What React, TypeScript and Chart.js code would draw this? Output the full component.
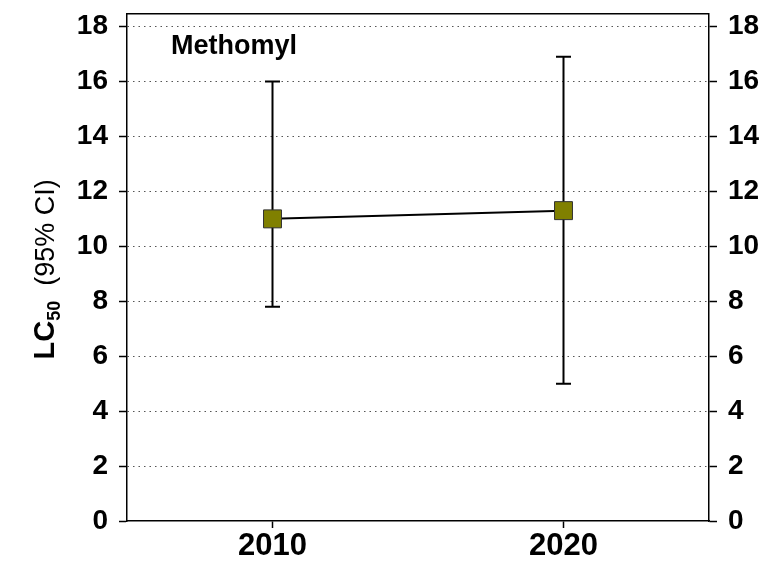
import { useEffect, useRef } from "react";
import { Chart, registerables } from "chart.js";

Chart.register(...registerables);

// Methomyl LC50 by survey year, with 95% confidence limits
const years = [2010, 2020];
const lc50 = [11.0, 11.3];
const ciLow = [7.8, 5.0];
const ciHigh = [16.0, 16.9];
const yTicks = [0, 2, 4, 6, 8, 10, 12, 14, 16, 18];
const xTicks = [2010, 2020];
const xRange = [2005, 2025];
const yRange = [0, 18.47];
const compound = "Methomyl";

const FONT = "'Liberation Sans', Arial, Helvetica, sans-serif";

const errorBars = {
  id: "errorBars",
  beforeDatasetsDraw(chart: any) {
    const { ctx, scales } = chart;
    const x = scales.x;
    const y = scales.y;
    ctx.save();
    ctx.strokeStyle = "#000";
    ctx.lineWidth = 2;
    years.forEach((yr, i) => {
      const px = x.getPixelForValue(yr);
      const top = y.getPixelForValue(ciHigh[i]);
      const bot = y.getPixelForValue(ciLow[i]);
      ctx.beginPath();
      ctx.moveTo(px, top);
      ctx.lineTo(px, bot);
      ctx.moveTo(px - 7.5, top);
      ctx.lineTo(px + 7.5, top);
      ctx.moveTo(px - 7.5, bot);
      ctx.lineTo(px + 7.5, bot);
      ctx.stroke();
    });
    ctx.restore();
  },
};

const frameAndText = {
  id: "frameAndText",
  afterDraw(chart: any) {
    const { ctx, chartArea } = chart;
    const { left, right, top, bottom } = chartArea;
    ctx.save();
    // top edge of the plot frame
    ctx.strokeStyle = "#000";
    ctx.lineWidth = 1.5;
    ctx.beginPath();
    ctx.moveTo(left, top);
    ctx.lineTo(right, top);
    ctx.stroke();

    // compound name inside the plot
    ctx.fillStyle = "#000";
    ctx.textBaseline = "alphabetic";
    ctx.textAlign = "left";
    ctx.font = `bold 27px ${FONT}`;
    ctx.fillText(compound, left + 44, top + 40);

    // rotated y-axis title: LC50 (95% CI)
    const parts = [
      { text: "LC", font: `bold 29px ${FONT}`, shift: 0 },
      { text: "50", font: `bold 18px ${FONT}`, shift: 6 },
      { text: "  (95% CI)", font: `27px ${FONT}`, shift: 0 },
    ];
    let total = 0;
    parts.forEach((p) => {
      ctx.font = p.font;
      total += ctx.measureText(p.text).width;
    });
    const cy = (top + bottom) / 2 + 2;
    ctx.translate(54, cy);
    ctx.rotate(-Math.PI / 2);
    let cx = -total / 2;
    parts.forEach((p) => {
      ctx.font = p.font;
      ctx.fillText(p.text, cx, p.shift);
      cx += ctx.measureText(p.text).width;
    });
    ctx.restore();
  },
};

export default function App() {
  const canvasRef = useRef<HTMLCanvasElement | null>(null);

  useEffect(() => {
    const canvas = canvasRef.current;
    if (!canvas) return;

    const yAxisBase = (position: "left" | "right", width: number, onArea: boolean) => ({
      type: "linear" as const,
      position,
      min: yRange[0],
      max: yRange[1],
      afterBuildTicks: (scale: any) => {
        scale.ticks = yTicks.map((v) => ({ value: v }));
      },
      afterFit: (scale: any) => {
        scale.width = width;
        scale.paddingTop = 0;
        scale.paddingBottom = 0;
      },
      ticks: {
        color: "#000",
        padding: 11,
        font: { family: FONT, size: 28, weight: "bold" as const },
        callback: (v: any) => String(v),
      },
      grid: {
        drawOnChartArea: onArea,
        drawTicks: true,
        tickLength: 8,
        tickColor: "#000",
        tickWidth: 1.5,
        lineWidth: 1,
        color: (c: any) => (c.tick && c.tick.value === 0 ? "rgba(0,0,0,0)" : "#555"),
      },
      border: { display: true, color: "#000", width: 1.5, dash: [1.5, 4] },
    });

    const chart = new Chart(canvas, {
      type: "line",
      data: {
        datasets: [
          {
            data: years.map((yr, i) => ({ x: yr, y: lc50[i] })),
            borderColor: "#000",
            borderWidth: 2,
            tension: 0,
            pointStyle: "rect",
            pointRadius: 12.7,
            pointBackgroundColor: "#808000",
            pointBorderColor: "#333",
            pointBorderWidth: 1,
            clip: false,
          },
        ],
      },
      options: {
        responsive: false,
        animation: false,
        devicePixelRatio: 1,
        layout: { padding: { top: 12, left: 0, right: 0, bottom: 0 } },
        plugins: { legend: { display: false }, tooltip: { enabled: false } },
        scales: {
          x: {
            type: "linear",
            position: "bottom",
            min: xRange[0],
            max: xRange[1],
            afterBuildTicks: (scale: any) => {
              scale.ticks = xTicks.map((v) => ({ value: v }));
            },
            afterFit: (scale: any) => {
              scale.height = 42;
              scale.paddingLeft = 0;
              scale.paddingRight = 0;
            },
            ticks: {
              color: "#000",
              padding: 0,
              maxRotation: 0,
              font: { family: FONT, size: 31, weight: "bold" },
              callback: (v: any) => String(v),
            },
            grid: {
              drawOnChartArea: false,
              drawTicks: true,
              tickLength: 7,
              tickColor: "#000",
              tickWidth: 1.5,
            },
            border: { display: true, color: "#000", width: 1.5 },
          },
          y: yAxisBase("left", 127, true),
          y2: yAxisBase("right", 69, false),
        },
      },
      plugins: [errorBars, frameAndText],
    });

    return () => chart.destroy();
  }, []);

  return (
    <div style={{ position: "fixed", left: 0, top: 0, width: 778, height: 563, background: "#fff" }}>
      <canvas ref={canvasRef} width={778} height={563} style={{ display: "block" }} />
    </div>
  );
}
